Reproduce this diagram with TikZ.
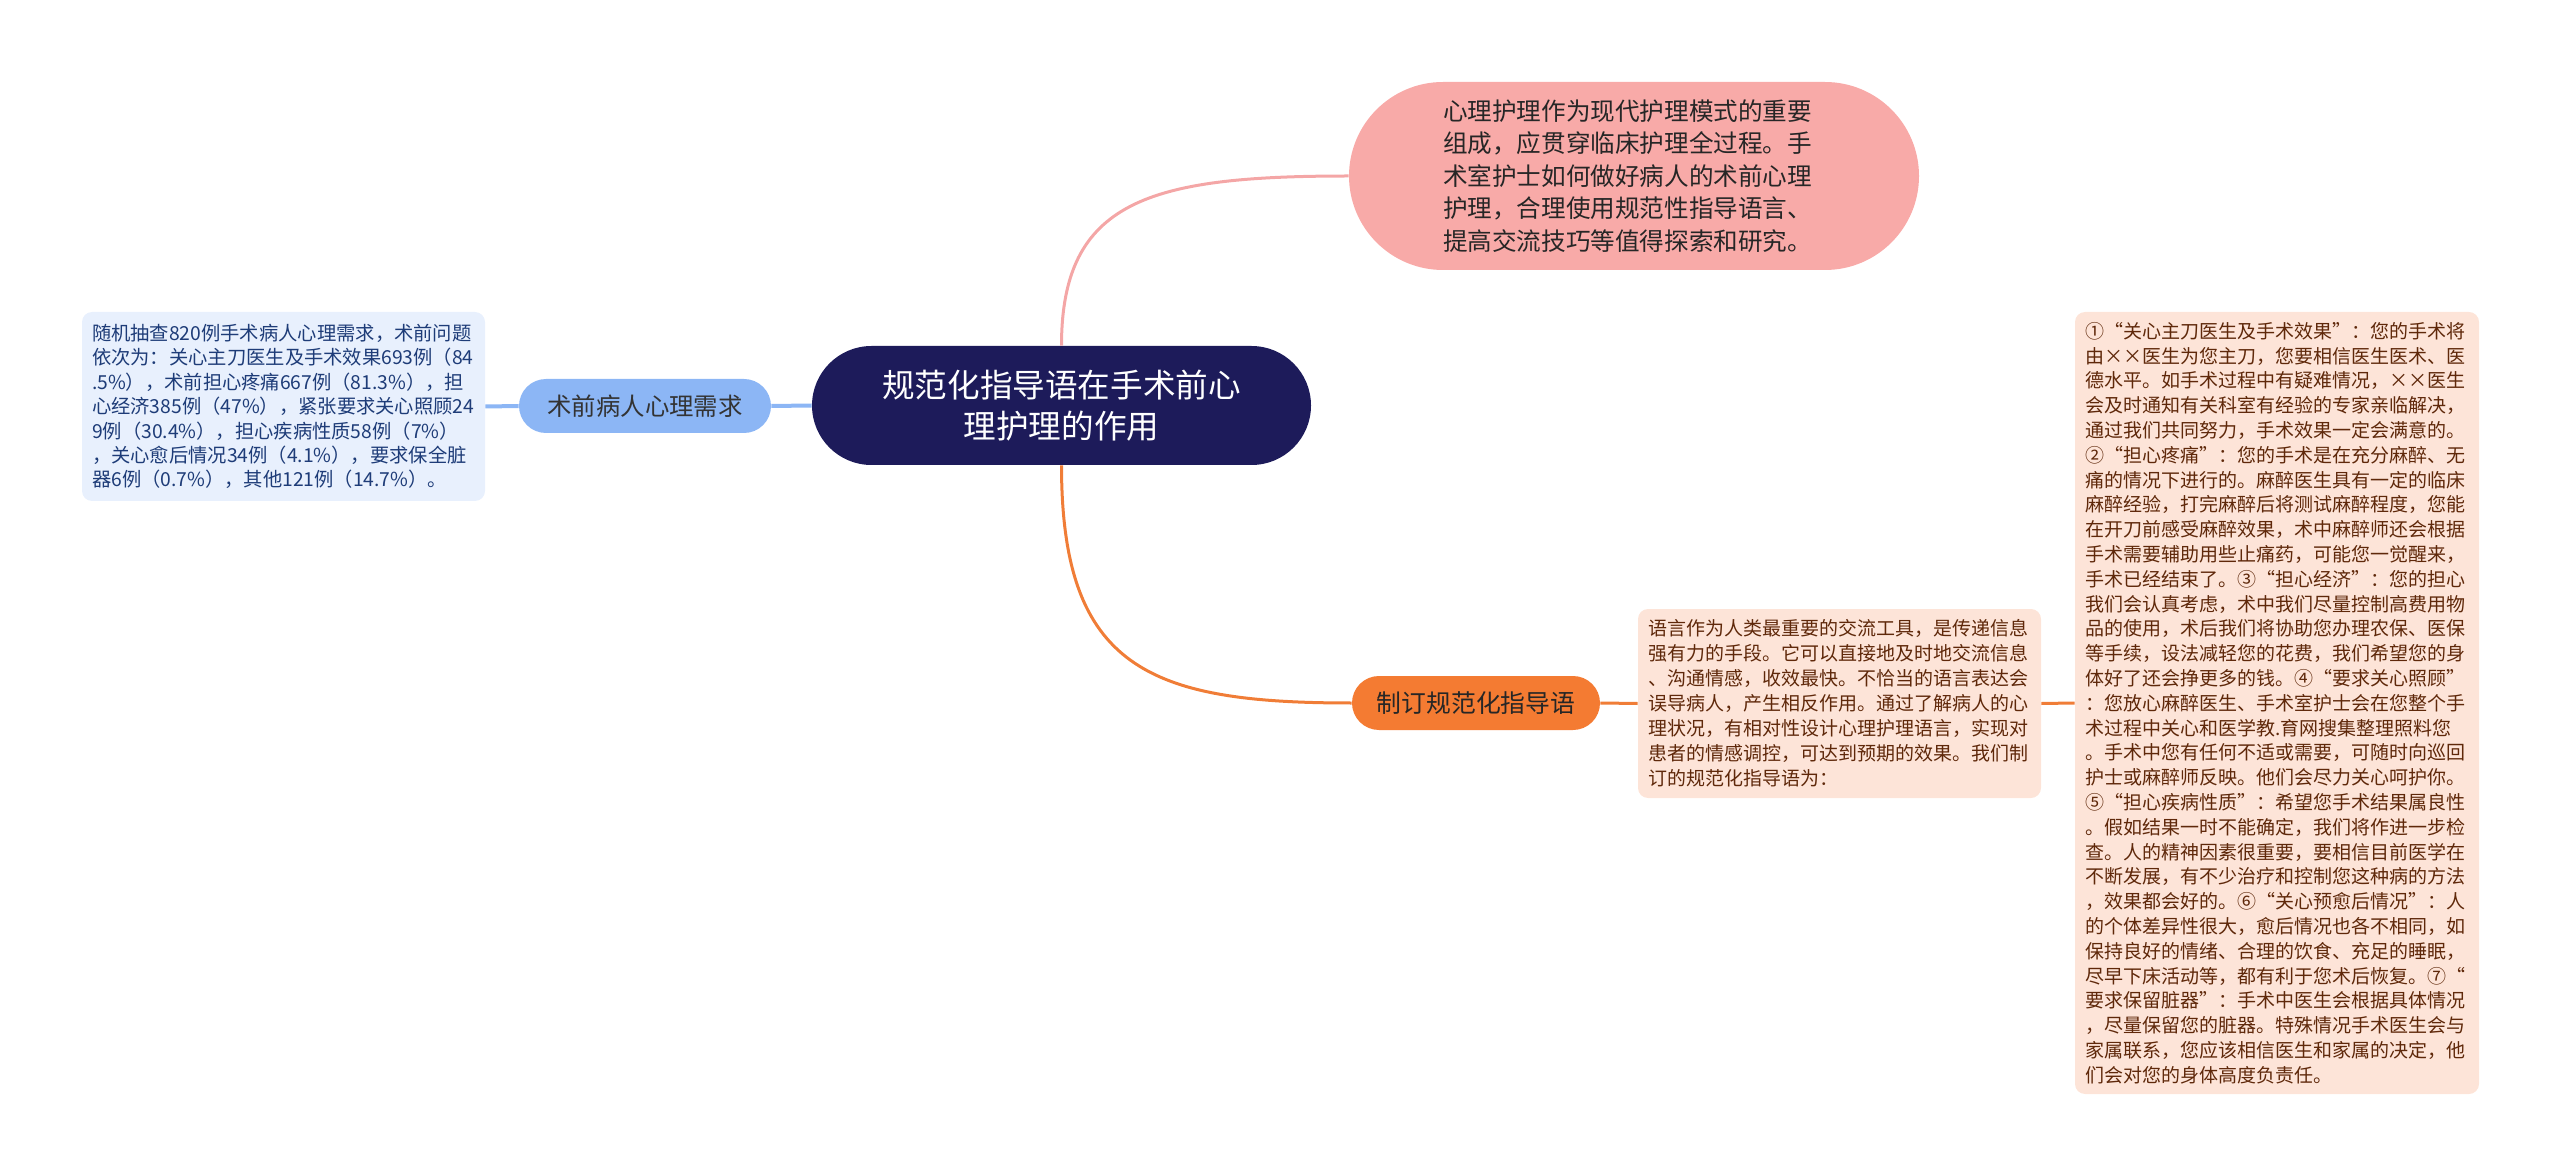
\documentclass[tikz,border=0pt]{standalone}
\usepackage{fontspec}
\setmainfont{Noto Sans CJK SC}
\definecolor{rootnavy}{RGB}{29, 27, 90}
\definecolor{needblue}{RGB}{140, 182, 245}
\definecolor{needleafbg}{RGB}{232, 240, 253}
\definecolor{needtext}{RGB}{30, 60, 120}
\definecolor{intropink}{RGB}{248, 170, 168}
\definecolor{linkpink}{RGB}{244, 166, 166}
\definecolor{ruleorange}{RGB}{244, 123, 50}
\definecolor{linkorange}{RGB}{240, 125, 55}
\definecolor{ruleleafbg}{RGB}{253, 228, 216}
\definecolor{ruletext}{RGB}{95, 40, 10}
\usetikzlibrary{positioning}

\begin{document}
\begin{tikzpicture}[x=0.5pt, y=-0.5pt,
    leafbox/.style={rounded corners=5pt, inner xsep=5pt, inner ysep=0pt, align=left, anchor=center},
    pill/.style={inner sep=0pt, align=center, anchor=center},
    bluelink/.style={draw=needblue, line width=2pt},
    pinklink/.style={draw=linkpink, line width=1.5pt},
    orangelink/.style={draw=linkorange, line width=1.5pt}]
  \useasboundingbox (0,0) rectangle (2560,1176);

  % Central topic
  \node[pill, fill=rootnavy, text=white, rounded corners=29.75pt, minimum width=249.5pt, minimum height=59.5pt,
        font=\fontsize{16.3}{20.4}\selectfont] (root) at (1061.5, 405.5) {
    规范化指导语在手术前心\\理护理的作用};

  % Left branch
  \node[pill, fill=needblue, text=black!80, rounded corners=13.5pt, minimum width=126pt, minimum height=27pt,
        font=\fontsize{12.2}{14}\selectfont] (need) at (645, 406) {术前病人心理需求};

  \node[leafbox, fill=needleafbg, text=needtext, text width=191.5pt, minimum height=94.5pt,
        font=\fontsize{9.65}{12.2}\selectfont] (needleaf) at (283.5, 406.5) {
    随机抽查820例手术病人心理需求，术前问题\\
    依次为：关心主刀医生及手术效果693例（84\\
    .5\%），术前担心疼痛667例（81.3\%），担\\
    心经济385例（47\%），紧张要求关心照顾24\\
    9例（30.4\%），担心疾病性质58例（7\%）\\
    ，关心愈后情况34例（4.1\%），要求保全脏\\
    器6例（0.7\%），其他121例（14.7\%）。};

  % Upper right branch
  \node[fill=intropink, text=black!85, rounded corners=47pt, inner xsep=47pt, inner ysep=0pt,
        text width=191pt, minimum height=94pt, align=left, anchor=center,
        font=\fontsize{12.3}{16.25}\selectfont] (intro) at (1634, 176) {
    心理护理作为现代护理模式的重要\\
    组成，应贯穿临床护理全过程。手\\
    术室护士如何做好病人的术前心理\\
    护理，合理使用规范性指导语言、\\
    提高交流技巧等值得探索和研究。};

  % Lower right branch
  \node[pill, fill=ruleorange, text=black!85, rounded corners=13.5pt, minimum width=124pt, minimum height=27pt,
        font=\fontsize{12.4}{14}\selectfont] (rule) at (1476, 703) {制订规范化指导语};

  \node[leafbox, fill=ruleleafbg, text=ruletext, text width=191.5pt, minimum height=94.5pt,
        font=\fontsize{9.5}{12.5}\selectfont] (ruleleaf) at (1839.5, 703.5) {
    语言作为人类最重要的交流工具，是传递信息\\
    强有力的手段。它可以直接地及时地交流信息\\
    、沟通情感，收效最快。不恰当的语言表达会\\
    误导病人，产生相反作用。通过了解病人的心\\
    理状况，有相对性设计心理护理语言，实现对\\
    患者的情感调控，可达到预期的效果。我们制\\
    订的规范化指导语为：};

  \node[leafbox, fill=ruleleafbg, text=ruletext, text width=192pt, minimum height=391pt,
        font=\fontsize{9.5}{12.4}\selectfont] (detail) at (2277, 703) {
    ①“关心主刀医生及手术效果”：您的手术将\\
    由××医生为您主刀，您要相信医生医术、医\\
    德水平。如手术过程中有疑难情况，××医生\\
    会及时通知有关科室有经验的专家亲临解决，\\
    通过我们共同努力，手术效果一定会满意的。\\
    ②“担心疼痛”：您的手术是在充分麻醉、无\\
    痛的情况下进行的。麻醉医生具有一定的临床\\
    麻醉经验，打完麻醉后将测试麻醉程度，您能\\
    在开刀前感受麻醉效果，术中麻醉师还会根据\\
    手术需要辅助用些止痛药，可能您一觉醒来，\\
    手术已经结束了。③“担心经济”：您的担心\\
    我们会认真考虑，术中我们尽量控制高费用物\\
    品的使用，术后我们将协助您办理农保、医保\\
    等手续，设法减轻您的花费，我们希望您的身\\
    体好了还会挣更多的钱。④“要求关心照顾”\\
    ：您放心麻醉医生、手术室护士会在您整个手\\
    术过程中关心和医学教.育网搜集整理照料您\\
    。手术中您有任何不适或需要，可随时向巡回\\
    护士或麻醉师反映。他们会尽力关心呵护你。\\
    ⑤“担心疾病性质”：希望您手术结果属良性\\
    。假如结果一时不能确定，我们将作进一步检\\
    查。人的精神因素很重要，要相信目前医学在\\
    不断发展，有不少治疗和控制您这种病的方法\\
    ，效果都会好的。⑥“关心预愈后情况”：人\\
    的个体差异性很大，愈后情况也各不相同，如\\
    保持良好的情绪、合理的饮食、充足的睡眠，\\
    尽早下床活动等，都有利于您术后恢复。⑦“\\
    要求保留脏器”：手术中医生会根据具体情况\\
    ，尽量保留您的脏器。特殊情况手术医生会与\\
    家属联系，您应该相信医生和家属的决定，他\\
    们会对您的身体高度负责任。};

  % Connectors
  \draw[bluelink] (root.west) -- (need.east);
  \draw[bluelink] (need.west) -- (needleaf.east);
  \draw[pinklink] (root.north) .. controls (1061.5, 200) and (1150, 176) .. (intro.west);
  \draw[orangelink] (root.south) .. controls (1061.5, 669) and (1150, 703) .. (rule.west);
  \draw[orangelink] (rule.east) -- (ruleleaf.west);
  \draw[orangelink] (ruleleaf.east) -- (detail.west);
\end{tikzpicture}
\end{document}
